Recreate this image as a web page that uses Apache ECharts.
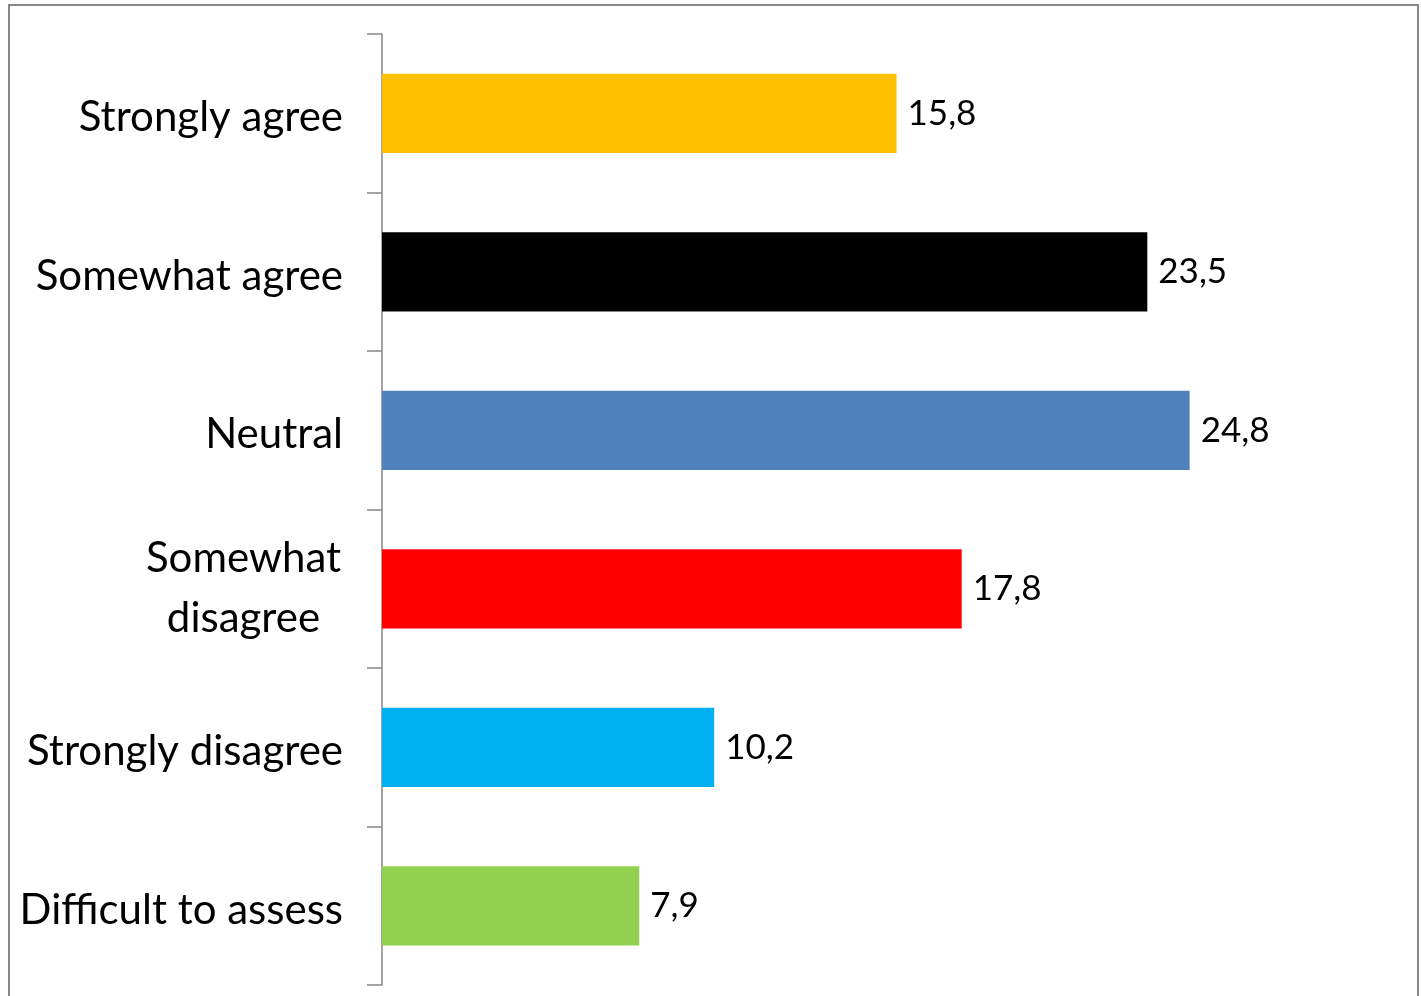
<!DOCTYPE html>
<html>
<head>
<meta charset="utf-8">
<script src="https://cdn.jsdelivr.net/npm/echarts@6/dist/echarts.min.js"></script>
<style>
  html, body { margin: 0; padding: 0; background: #fff; }
  #chart { width: 1421px; height: 996px; }
</style>
</head>
<body>
<div id="chart"></div>
<script>
// Survey answer categories, top to bottom
const categories = ['Strongly agree', 'Somewhat agree', 'Neutral', 'Somewhat\ndisagree', 'Strongly disagree', 'Difficult to assess'];
// Share of respondents, %
const values = [15.8, 23.5, 24.8, 17.8, 10.2, 7.9];
// One fill per answer
const colors = ['#FFC000', '#000000', '#4F81BD', '#FF0000', '#00B0F0', '#92D050'];

const chart = echarts.init(document.getElementById('chart'), null, { renderer: 'canvas' });

const FONT = 'Lato, "Open Sans", sans-serif';

chart.setOption({
  animation: false,
  backgroundColor: '#ffffff',
  graphic: [{
    type: 'rect',
    shape: { x: 9, y: 5, width: 1409, height: 1010 },
    style: { fill: 'none', stroke: '#868686', lineWidth: 2 },
    silent: true,
    z: 0
  }],
  grid: { left: 382, top: 34, height: 951, width: 977, containLabel: false },
  xAxis: {
    type: 'value',
    min: 0,
    max: 30,
    show: false
  },
  yAxis: {
    type: 'category',
    data: categories,
    inverse: true,
    axisLine: { show: true, lineStyle: { color: '#868686', width: 1.5 } },
    axisTick: { show: true, length: 15, alignWithLabel: false, lineStyle: { color: '#868686', width: 1.5 } },
    axisLabel: {
      margin: 39,
      fontFamily: FONT,
      fontSize: 42,
      color: '#000',
      formatter: function (v) {
        return v.indexOf('\n') >= 0 ? '{w|' + v + '}' : '{s|' + v + '}';
      },
      rich: {
        s: { fontFamily: FONT, fontSize: 42, color: '#000', padding: [9, 0, 0, 0] },
        w: { width: 199, align: 'center', fontFamily: FONT, fontSize: 42, lineHeight: 60, color: '#000' }
      }
    },
    splitLine: { show: false }
  },
  series: [{
    type: 'bar',
    data: values.map((v, i) => ({ value: v, itemStyle: { color: colors[i] } })),
    barCategoryGap: '50%',
    label: {
      show: true,
      position: 'right',
      distance: 11,
      fontFamily: FONT,
      fontSize: 35,
      color: '#000',
      formatter: p => String(p.value).replace('.', ',')
    }
  }]
});
</script>
</body>
</html>
